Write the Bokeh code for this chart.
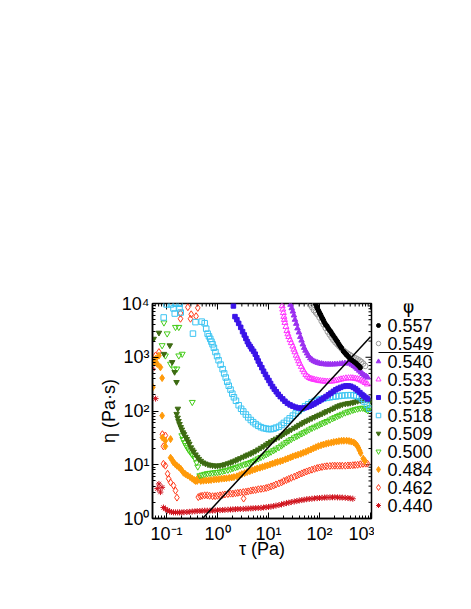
import math
from bokeh.plotting import figure
from bokeh.models import Range1d, FixedTicker, Label
from bokeh.layouts import row
from bokeh.core.properties import value
from bokeh.embed import file_html
from bokeh.resources import INLINE

FONT = "Liberation Sans"

# ---------------- data (tau [Pa], eta [Pa s]) ----------------
phi_labels = ["0.557", "0.549", "0.540", "0.533", "0.525", "0.518",
              "0.509", "0.500", "0.484", "0.462", "0.440"]

s557 = [(83, 10000), (87, 9000), (91, 8100), (96, 7300), (100, 6700), (105, 6200), (110, 5600),
        (115, 5200), (120, 4800), (127, 4300), (133, 4000), (140, 3800), (147, 3500), (155, 3250),
        (166, 3000), (175, 2750), (185, 2550), (200, 2300), (212, 2100), (225, 1950), (240, 1750),
        (255, 1600), (270, 1480), (295, 1290), (315, 1200), (335, 1120), (350, 1080), (375, 1000),
        (405, 920), (440, 870), (480, 820), (520, 770), (560, 720), (600, 680), (630, 640)]

s549 = [(66, 9500), (72, 8500), (78, 7500), (85, 6800), (91, 6300), (100, 5500), (110, 4700),
        (120, 4100), (132, 3500), (145, 3000), (158, 2650), (172, 2350), (187, 2100), (205, 1900),
        (225, 1740), (245, 1600), (270, 1450), (300, 1320), (330, 1230), (360, 1160), (395, 1100),
        (430, 1040), (470, 990), (515, 950), (560, 910), (610, 870), (660, 820), (720, 760), (790, 690)]

s540 = [(27, 9500), (28.5, 8200), (30, 7100), (31.5, 6000), (33, 5000), (35, 4200), (37, 3450),
        (39.5, 2900), (42, 2400), (44.5, 2050), (47, 1740), (50, 1500), (53, 1330), (57, 1180),
        (61, 1060), (66, 960), (71, 900), (77, 850), (84, 815), (92, 790), (100, 770), (110, 755),
        (120, 745), (133, 738), (147, 735), (162, 735), (180, 738), (200, 740), (224, 745), (250, 752),
        (280, 762), (315, 772), (355, 775), (390, 765), (430, 730), (470, 690), (510, 650), (550, 610),
        (600, 565), (650, 525), (700, 490), (760, 460), (820, 440), (880, 420)]

s533 = [(18.5, 9000), (19, 7800), (19.5, 6700), (20, 5700), (20.5, 5000), (21, 4400), (22, 3700),
        (23, 3100), (24, 2700), (25, 2400), (26.5, 2100), (28, 1850), (30, 1600), (31.5, 1400),
        (33, 1250), (35, 1080), (37, 960), (39, 850), (41, 760), (44, 670), (47, 590), (50, 530),
        (54, 475), (58, 440), (63, 415), (68, 400), (74, 390), (80, 382), (88, 375), (96, 368),
        (105, 362), (116, 358), (128, 355), (142, 354), (158, 355), (175, 358), (195, 363), (215, 370),
        (240, 380), (265, 390), (295, 400), (330, 407), (370, 410), (410, 410), (450, 408), (500, 402),
        (550, 395), (600, 385), (660, 370), (720, 355), (790, 335), (870, 315)]

s525 = [(2.05, 9000), (2.2, 5700), (2.4, 5000), (2.6, 4270), (2.85, 3600), (3.1, 3000), (3.35, 2600),
        (3.6, 2240), (3.85, 1950), (4.1, 1740), (4.4, 1580), (4.7, 1430), (5.1, 1290), (5.5, 1140),
        (5.9, 980), (6.3, 850), (6.8, 740), (7.4, 640), (8, 550), (8.7, 480), (9.4, 420), (10.2, 370),
        (11, 325), (12, 285), (13, 255), (14.2, 228), (15.5, 205), (17, 185), (19, 168), (21, 152),
        (23.5, 139), (26.5, 130), (30, 123), (34, 118), (39, 114), (44, 113), (50, 114), (56, 117),
        (63, 122), (70, 128), (78, 135), (87, 143), (97, 152), (108, 162), (120, 173), (134, 186),
        (150, 200), (167, 215), (187, 232), (208, 248), (232, 262), (260, 275), (295, 287), (330, 293),
        (370, 293), (410, 288), (460, 275), (510, 258), (560, 240), (620, 220), (680, 203), (740, 190),
        (810, 178), (880, 168)]

s518 = [(0.088, 5500), (0.10, 9600), (0.122, 9600), (0.15, 9900), (0.18, 9900), (0.137, 8100),
        (0.18, 8100), (0.145, 6500), (0.19, 6800), (0.37, 4500), (0.33, 2750), (0.49, 4600),
        (0.56, 4300), (0.6, 3400),
        (0.64, 2750), (0.68, 2450), (0.72, 2200), (0.76, 1950), (0.8, 1740), (0.85, 1500), (0.91, 1250),
        (0.98, 1050), (1.05, 880), (1.15, 730), (1.26, 600), (1.35, 500), (1.45, 420), (1.55, 350),
        (1.66, 295), (1.8, 250), (1.95, 210), (2.1, 180), (2.3, 155), (2.6, 128), (2.9, 110), (3.2, 98),
        (3.6, 86), (4.0, 76), (4.5, 68), (5.0, 62), (5.6, 57), (6.3, 53), (7.1, 50), (8.0, 48), (9.0, 47),
        (10, 46), (11.2, 46), (12.6, 47), (14, 49), (16, 51), (18, 55), (20, 60), (23, 66), (26, 73),
        (30, 82), (34, 90), (39, 100), (45, 110), (52, 122), (60, 133), (70, 145), (80, 153), (92, 160),
        (105, 166), (120, 171), (140, 176), (160, 180), (185, 184), (210, 187), (240, 190), (275, 193),
        (315, 195), (360, 197), (410, 197), (470, 195), (530, 190), (600, 182), (680, 168), (760, 150),
        (850, 130), (950, 110)]

s509 = [(0.071, 2850), (0.056, 2200), (0.116, 1660), (0.089, 1150), (0.129, 810), (0.144, 530),
        (0.157, 345), (0.167, 110),
        (0.158, 88), (0.165, 75), (0.172, 65), (0.18, 57), (0.19, 50), (0.2, 45), (0.21, 40), (0.22, 37),
        (0.235, 33), (0.25, 30), (0.265, 27), (0.28, 24.5), (0.3, 21), (0.32, 19), (0.34, 17.5),
        (0.37, 15.5), (0.4, 14), (0.43, 12.8), (0.47, 11.8), (0.52, 11), (0.58, 10.5), (0.65, 10.1),
        (0.72, 9.9), (0.8, 9.7), (0.9, 9.6), (1.0, 9.6), (1.12, 9.7), (1.26, 9.9), (1.4, 10.2),
        (1.6, 10.6), (1.8, 11), (2.0, 11.5), (2.25, 12), (2.5, 12.6), (2.8, 13.2), (3.2, 14),
        (3.6, 14.8), (4.0, 15.5), (4.5, 16.2), (5.0, 17), (5.6, 18), (6.3, 19.2), (7.1, 20.6), (8, 22),
        (9, 23.7), (10, 25.3), (11.2, 27), (12.6, 28.8), (14, 30.5), (16, 32.5), (18, 35), (20, 37.5),
        (22.5, 40), (25, 42.5), (28, 45), (32, 48.5), (36, 51.5), (40, 55), (45, 58.5), (50, 62),
        (56, 65.5), (63, 69), (71, 73), (80, 77), (90, 81), (100, 85), (112, 89), (126, 94), (140, 99),
        (160, 104), (180, 110), (200, 116), (225, 122), (250, 127), (280, 132), (320, 136), (360, 139),
        (400, 141), (450, 144), (500, 148), (560, 153), (630, 158), (710, 162), (800, 163), (900, 160),
        (1000, 155)]

s500 = [(0.089, 4400), (0.15, 3630), (0.174, 3630), (0.103, 2750), (0.082, 1660), (0.203, 1150),
        (0.174, 1070), (0.095, 1070), (0.12, 750), (0.16, 610), (0.14, 610), (0.32, 146),
        (0.2, 35), (0.21, 30), (0.225, 26), (0.24, 23), (0.255, 21), (0.27, 19), (0.29, 17.5),
        (0.31, 16), (0.33, 14.8), (0.36, 13.2), (0.39, 11), (0.41, 9.2),
        (0.45, 6.3), (0.5, 6.5), (0.56, 6.7), (0.63, 6.9), (0.71, 7.0), (0.8, 7.1), (0.9, 7.2),
        (1.0, 7.3), (1.12, 7.4), (1.26, 7.6), (1.4, 7.8), (1.6, 8.0), (1.8, 8.3), (2.0, 8.6),
        (2.25, 8.9), (2.5, 9.2), (2.8, 9.6), (3.2, 10), (3.6, 10.4), (4.0, 10.7), (4.5, 11.1),
        (5.0, 11.6), (5.6, 12.3), (6.3, 13), (7.1, 13.8), (8, 14.6), (9, 15.5), (10, 16.4),
        (11.2, 17.4), (12.6, 18.5), (14, 19.7), (16, 21), (18, 22.6), (20, 24.5), (22.5, 26.2),
        (25, 28), (28, 29.8), (32, 32), (36, 34), (40, 35.8), (45, 38), (50, 40), (56, 42.5), (63, 45),
        (71, 48), (80, 50.5), (90, 53), (100, 55.5), (112, 58.5), (126, 61.5), (140, 64.5), (160, 68.5),
        (180, 72.5), (200, 76), (225, 80), (250, 84), (280, 88), (320, 93), (360, 97), (400, 100),
        (450, 104), (500, 107), (560, 110), (630, 113), (700, 114), (760, 112), (820, 108), (880, 103),
        (980, 118)]

s484 = [(0.071, 1070), (0.061, 935), (0.056, 810), (0.066, 750), (0.076, 650), (0.082, 410),
        (0.054, 277), (0.082, 82), (0.083, 32), (0.095, 28), (0.12, 30), (0.095, 22),
        (0.12, 13.5), (0.13, 12.2), (0.137, 11), (0.148, 10.3), (0.16, 9.6), (0.175, 9.0), (0.19, 8.4),
        (0.2, 7.8), (0.215, 7.1), (0.235, 6.7), (0.26, 6.3), (0.29, 5.9), (0.32, 5.5), (0.35, 5.2),
        (0.37, 5.0), (0.4, 5.0), (0.42, 5.8),
        (0.47, 5.0), (0.53, 5.05), (0.6, 5.1), (0.67, 5.15), (0.75, 5.2), (0.85, 5.3), (0.95, 5.35),
        (1.06, 5.4), (1.2, 5.5), (1.35, 5.55), (1.5, 5.6), (1.7, 5.7), (1.9, 5.8), (2.1, 5.9),
        (2.4, 6.1), (2.7, 6.4), (3.0, 6.7), (3.4, 7.0), (3.8, 7.3), (4.3, 7.6), (4.8, 7.9), (5.4, 8.2),
        (6.0, 8.5), (6.8, 8.8), (7.6, 9.1), (8.5, 9.4), (9.5, 9.7), (10.7, 10.1), (12, 10.5),
        (13.5, 10.9), (15, 11.3), (17, 11.6), (19, 12), (21.5, 12.6), (24, 13.1), (27, 13.7),
        (30, 14.3), (34, 14.9), (38, 15.4), (43, 16), (48, 16.7), (54, 17.4), (60, 18.2), (68, 19.2),
        (76, 20.2), (85, 21.2), (95, 22.2), (107, 23), (120, 23.8), (135, 24.6), (150, 25.2),
        (170, 25.8), (190, 26.4), (215, 27), (240, 27.5), (270, 27.9), (300, 28), (340, 28),
        (380, 27.6), (420, 27), (470, 26), (510, 24.5), (550, 22.5), (580, 20.5), (610, 18.5),
        (640, 16.5), (720, 13), (780, 11.8)]

s462 = [(0.262, 8530), (0.41, 8300), (0.188, 6600), (0.305, 6300), (0.38, 5800), (0.188, 5200),
        (0.295, 5200), (0.071, 1250), (0.061, 1080),
        (0.083, 37), (0.095, 35), (0.087, 22),
        (0.087, 10.4), (0.095, 9.6), (0.105, 6.8), (0.11, 5.5), (0.12, 4.7), (0.137, 4.1), (0.15, 3.3),
        (0.16, 2.45),
        (0.42, 2.5), (0.46, 2.6), (0.5, 2.65), (0.56, 2.7), (0.63, 2.7), (0.7, 2.65), (0.8, 2.6),
        (0.9, 2.6), (1.0, 2.65), (1.12, 2.7), (1.26, 2.75), (1.4, 2.8), (1.6, 2.85), (1.8, 2.9),
        (2.0, 2.9), (2.25, 2.95), (2.5, 3.0), (2.8, 3.05), (3.2, 3.1), (3.25, 2.35), (3.6, 3.15),
        (4.0, 3.2), (4.5, 3.3), (5.0, 3.35), (5.6, 3.4), (6.3, 3.5), (7.1, 3.55), (8, 3.6), (9, 3.7),
        (10, 3.8), (11.2, 3.95), (12.6, 4.1), (14, 4.3), (16, 4.5), (18, 4.7), (20, 5.0), (22.5, 5.2),
        (25, 5.45), (28, 5.7), (32, 6.0), (36, 6.3), (40, 6.6), (45, 6.9), (50, 7.2), (56, 7.5),
        (63, 7.8), (71, 8.1), (80, 8.4), (90, 8.7), (100, 8.9), (112, 9.1), (126, 9.3), (140, 9.4),
        (160, 9.5), (180, 9.6), (200, 9.6), (225, 9.6), (250, 9.6), (280, 9.6), (320, 9.6),
        (360, 9.7), (400, 9.7), (450, 9.8), (500, 9.9), (560, 10.0), (630, 10.2), (710, 10.4),
        (800, 10.5), (870, 10.5)]

s440 = [(0.053, 610), (0.061, 170), (0.076, 3.1), (0.066, 3.6), (0.071, 4.4), (0.082, 3.8),
        (0.087, 1.6), (0.095, 1.5), (0.105, 1.42), (0.115, 1.36), (0.125, 1.32), (0.137, 1.3),
        (0.15, 1.3), (0.165, 1.3), (0.18, 1.3), (0.2, 1.3), (0.22, 1.31), (0.25, 1.32), (0.28, 1.33),
        (0.32, 1.35), (0.36, 1.36), (0.4, 1.37), (0.45, 1.38), (0.5, 1.39), (0.56, 1.4), (0.63, 1.4),
        (0.71, 1.4), (0.8, 1.4), (0.9, 1.41), (1.0, 1.42), (1.12, 1.43), (1.26, 1.44), (1.4, 1.45),
        (1.6, 1.46), (1.8, 1.47), (2.0, 1.48), (2.25, 1.49), (2.5, 1.5), (2.8, 1.5), (3.2, 1.51),
        (3.6, 1.52), (4.0, 1.53), (4.5, 1.54), (5.0, 1.55), (5.6, 1.56), (6.3, 1.57), (7.1, 1.58),
        (8, 1.6), (9, 1.62), (10, 1.64), (11.2, 1.67), (12.6, 1.7), (14, 1.74), (16, 1.78), (18, 1.83),
        (20, 1.88), (22.5, 1.93), (25, 1.97), (28, 2.02), (32, 2.07), (36, 2.12), (40, 2.16),
        (45, 2.2), (50, 2.24), (56, 2.28), (63, 2.31), (71, 2.34), (80, 2.37), (90, 2.39), (100, 2.41),
        (112, 2.43), (126, 2.45), (140, 2.46), (160, 2.47), (180, 2.48), (200, 2.48), (225, 2.47),
        (250, 2.46), (280, 2.45), (320, 2.43), (360, 2.4), (400, 2.37), (450, 2.33)]

# constant shear-rate line
line_tau = [0.51, 1000]
line_eta = [1.0, 2400]

x_major = [0.1, 1, 10, 100, 1000]
y_major = [1, 10, 100, 1000, 10000]
x_labels = ["10⁻¹", "10⁰", "10¹", "10²", "10³"]
y_labels = ["10⁰", "10¹", "10²", "10³", "10⁴"]

series = [s557, s549, s540, s533, s525, s518, s509, s500, s484, s462, s440]

# styles: (marker, color, filled, size)
styles = [
    ("circle", "#000000", True, 4.5),
    ("circle", "#999999", False, 5.5),
    ("triangle", "#9b30f0", True, 5.5),
    ("triangle", "#ff33ff", False, 6),
    ("square", "#3a14e8", True, 4.5),
    ("square", "#3cc4f2", False, 5.5),
    ("inverted_triangle", "#3d6b12", True, 5.5),
    ("inverted_triangle", "#45cc1a", False, 6),
    ("diamond", "#ff9a0a", True, 7),
    ("diamond", "#ff3c1c", False, 7),
    ("asterisk", "#d0141e", False, 6),
]

# ---------------- main plot ----------------
X0, X1 = 0.0531, 1046
Y0, Y1 = 1, 10000
FW, FH = 219, 215
B_LEFT, B_TOP, B_BOTTOM, B_RIGHT = 152, 303, 83, 3
FIG_H = B_TOP + FH + B_BOTTOM

p = figure(width=B_LEFT + FW + B_RIGHT, height=FIG_H, x_axis_type="log", y_axis_type="log",
           x_range=Range1d(X0, X1), y_range=Range1d(Y0, Y1),
           output_backend="svg", toolbar_location=None,
           min_border_left=B_LEFT, min_border_right=B_RIGHT,
           min_border_top=B_TOP, min_border_bottom=B_BOTTOM)
p.background_fill_color = "white"
p.border_fill_color = "white"
p.grid.visible = False
p.outline_line_color = "black"
p.outline_line_width = 1.5

bottom_ax = p.below[0]
left_ax = p.left[0]

x_minor = [k * 10.0 ** e for e in range(-2, 4) for k in range(2, 10)]
y_minor = [k * 10.0 ** e for e in range(0, 4) for k in range(2, 10)]
bottom_ax.ticker = FixedTicker(ticks=x_major, minor_ticks=x_minor)
left_ax.ticker = FixedTicker(ticks=y_major, minor_ticks=y_minor)

for ax in [bottom_ax, left_ax]:
    ax.axis_line_color = "black"
    ax.axis_line_width = 1.5
    ax.major_tick_in = 6
    ax.major_tick_out = 0
    ax.minor_tick_in = 3
    ax.minor_tick_out = 0
    ax.major_tick_line_color = "black"
    ax.minor_tick_line_color = "black"
    ax.major_label_text_font = FONT
    ax.major_label_text_font_size = "18px"
    ax.major_label_text_color = "black"
    ax.axis_label_text_font = FONT
    ax.axis_label_text_font_size = "18px"
    ax.axis_label_text_font_style = "normal"
    ax.axis_label_text_color = "black"

bottom_ax.major_label_overrides = dict(zip(x_major, x_labels))
left_ax.major_label_overrides = dict(zip(y_major, y_labels))
bottom_ax.axis_label = "τ (Pa)"
left_ax.axis_label = "η (Pa·s)"
bottom_ax.major_label_standoff = 5
left_ax.major_label_standoff = 3
bottom_ax.axis_label_standoff = -8
left_ax.axis_label_standoff = 0

# mirrored ticks on the top and right frame edges
xdec = FW / math.log10(X1 / X0)
ydec = FH / math.log10(Y1 / Y0)
tx = [v for v in x_major + x_minor if X0 < v < X1]
tlen = [6 if v in x_major else 3 for v in tx]
p.segment(x0=tx, y0=[Y1] * len(tx), x1=tx, y1=[Y1 / 10 ** (L / ydec) for L in tlen],
          line_color="black", line_width=1)
ty = [v for v in y_major + y_minor if Y0 < v < Y1]
tleny = [6 if v in y_major else 3 for v in ty]
p.segment(x0=[X1] * len(ty), y0=ty, x1=[X1 / 10 ** (L / xdec) for L in tleny], y1=ty,
          line_color="black", line_width=1)

for data, (mk, col, filled, sz) in zip(reversed(series), reversed(styles)):
    t = [d[0] for d in data]
    e = [d[1] for d in data]
    p.scatter(t, e, marker=mk, size=sz, line_color=col,
              fill_color=col if filled else None, line_width=1)

p.line(line_tau, line_eta, line_color="black", line_width=1.5)

# ---------------- legend panel (same frame height as the plot) ----------------
LEG_W = 89
pl = figure(width=LEG_W, height=FIG_H, x_range=Range1d(0, LEG_W), y_range=Range1d(0, FH),
            output_backend="svg", toolbar_location=None,
            min_border_left=0, min_border_right=0, min_border_top=B_TOP, min_border_bottom=B_BOTTOM,
            x_axis_location=None, y_axis_location=None)
pl.grid.visible = False
pl.outline_line_color = None
pl.background_fill_color = "white"
pl.border_fill_color = "white"

row_step = 18
first_y = FH - 22
for i, (lab, (mk, col, filled, sz)) in enumerate(zip(phi_labels, styles)):
    yy = first_y - i * row_step
    pl.scatter([4], [yy], marker=mk, size=max(sz - 1, 4), line_color=col,
               fill_color=col if filled else None, line_width=1)
    pl.text([13], [yy], text=[lab], text_font=value(FONT), text_font_size="18px",
            text_baseline="middle", text_align="left", text_color="black")

# legend key of the black line (drawn between the 0.549 and 0.540 rows)
pl.line([4, 59], [first_y - row_step * 1.5, first_y - row_step * 1.5], line_color="black", line_width=1.2)

pl.add_layout(Label(x=34, y=FH - 2, text="ϕ", text_font=FONT, text_font_size="20px",
                    text_baseline="middle", text_align="center", text_color="black"))

layout = row(p, pl)
open("out.html", "w").write(file_html(layout, INLINE))
